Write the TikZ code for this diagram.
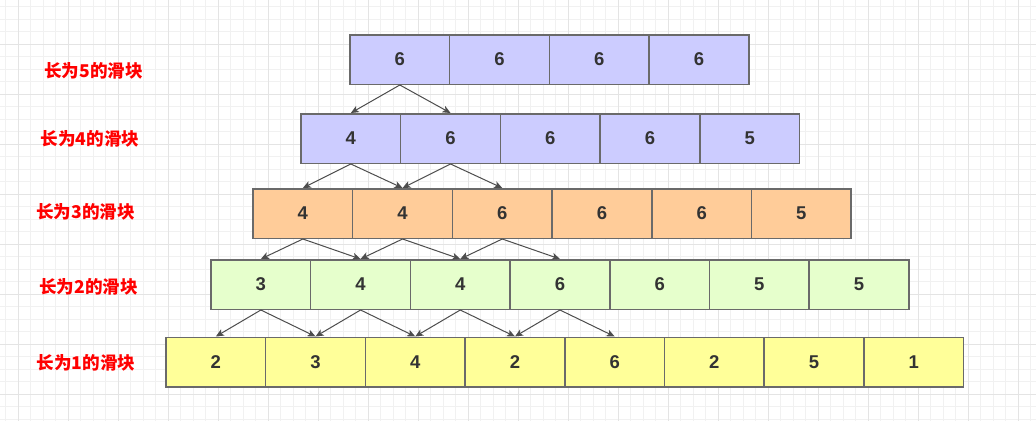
\documentclass[tikz,border=0pt]{standalone}
\usepackage{fontspec}
\setmainfont{Liberation Sans}
\newfontfamily\cjk{Noto Sans CJK SC}
\usetikzlibrary{arrows.meta}
\definecolor{cLav}{HTML}{CCCCFF}
\definecolor{cOra}{HTML}{FFCC99}
\definecolor{cGre}{HTML}{E6FFCC}
\definecolor{cYel}{HTML}{FFFF99}
\definecolor{cEdge}{HTML}{6A6A6A}
\definecolor{cArr}{HTML}{4D4D4D}
\definecolor{cTxt}{HTML}{333333}
\definecolor{gMin}{HTML}{F1F1F1}
\definecolor{gMaj}{HTML}{E4E4E4}
\tikzset{
  cell/.style={draw=cEdge, line width=1.5pt, rectangle, minimum width=99.7pt,
    minimum height=49.5pt, inner sep=0pt, text=cTxt,
    font=\fontsize{18.5}{18.5}\selectfont\bfseries},
  conn/.style={draw=cArr, line width=1pt, -{Stealth[length=8pt,width=7pt,inset=2pt]}},
  lbl/.style={text=red, font=\cjk\fontsize{17.6}{17.6}\selectfont\bfseries, inner sep=0pt},
  gminor/.style={draw=gMin, line width=1pt},
  gmajor/.style={draw=gMaj, line width=1pt}
}
\begin{document}
\begin{tikzpicture}[x=1pt,y=-1pt]
\useasboundingbox (0,0) rectangle (1036,421);
\fill[white] (0,0) rectangle (1036,421);
% grid
\foreach \k in {0,...,82} {\draw[gminor] ({5.5+12.5*\k},0) -- ({5.5+12.5*\k},421);}
\foreach \k in {0,...,33} {\draw[gminor] (0,{6.8+12.5*\k}) -- (1036,{6.8+12.5*\k});}
\foreach \k in {0,...,20} {\draw[gmajor] ({18+50*\k},0) -- ({18+50*\k},421);}
\foreach \k in {0,...,7} {\draw[gmajor] (0,{44.3+50*\k}) -- (1036,{44.3+50*\k});}
% rows
\foreach \v [count=\i] in {6,6,6,6}
  \node[cell, fill=cLav] (r5c\i) at ({350+99.7*(\i-0.5)},59.5) {\v};
\foreach \v [count=\i] in {4,6,6,6,5}
  \node[cell, fill=cLav] (r4c\i) at ({301+99.7*(\i-0.5)},138.5) {\v};
\foreach \v [count=\i] in {4,4,6,6,6,5}
  \node[cell, fill=cOra] (r3c\i) at ({253+99.7*(\i-0.5)},213.5) {\v};
\foreach \v [count=\i] in {3,4,4,6,6,5,5}
  \node[cell, fill=cGre] (r2c\i) at ({211+99.7*(\i-0.5)},284.5) {\v};
\foreach \v [count=\i] in {2,3,4,2,6,2,5,1}
  \node[cell, fill=cYel] (r1c\i) at ({166+99.7*(\i-0.5)},362) {\v};
% labels
\node[lbl] (l5) at (93.5,71) {长为5的滑块};
\node[lbl] (l4) at (90,139) {长为4的滑块};
\node[lbl] (l3) at (85.5,212) {长为3的滑块};
\node[lbl] (l2) at (88.5,287) {长为2的滑块};
\node[lbl] (l1) at (86,363) {长为1的滑块};
% connectors
\foreach \i in {1} {\pgfmathtruncatemacro\j{\i+1}
  \draw[conn] (r5c\i.south) -- (r4c\i.north);
  \draw[conn] (r5c\i.south) -- (r4c\j.north);}
\foreach \i in {1,2} {\pgfmathtruncatemacro\j{\i+1}
  \draw[conn] (r4c\i.south) -- (r3c\i.north);
  \draw[conn] (r4c\i.south) -- (r3c\j.north);}
\foreach \i in {1,2,3} {\pgfmathtruncatemacro\j{\i+1}
  \draw[conn] (r3c\i.south) -- (r2c\i.north);
  \draw[conn] (r3c\i.south) -- (r2c\j.north);}
\foreach \i in {1,2,3,4} {\pgfmathtruncatemacro\j{\i+1}
  \draw[conn] (r2c\i.south) -- (r1c\i.north);
  \draw[conn] (r2c\i.south) -- (r1c\j.north);}
\end{tikzpicture}
\end{document}
